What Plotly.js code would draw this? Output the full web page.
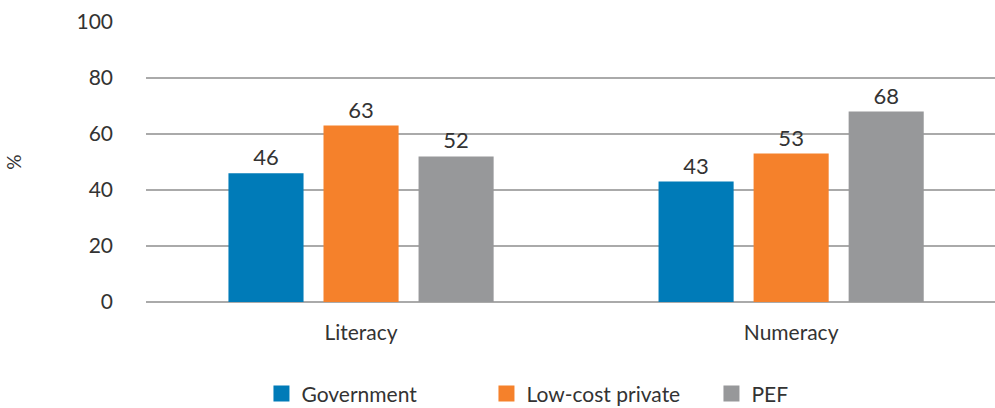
<!DOCTYPE html>
<html><head><meta charset="utf-8">
<script src="https://cdn.plot.ly/plotly-3.0.1.min.js"></script>
<style>html,body{margin:0;padding:0;background:#fff}#c{width:995px;height:408px}</style>
</head><body><div id="c"></div>
<script>
const categories = ["Literacy", "Numeracy"];
const seriesNames = ["Government", "Low-cost private", "PEF"];
const government = [46, 43];
const lowCostPrivate = [63, 53];
const pef = [52, 68];
const yTicks = [0, 20, 40, 60, 80, 100];
const colors = ["#007bb8", "#f5812b", "#97989a"];
const values = [government, lowCostPrivate, pef];
const FONT = "Lato, 'Open Sans', sans-serif";
const traces = values.map((v, i) => ({
  type: "bar", name: seriesNames[i], x: categories, y: v,
  marker: {color: colors[i]}, showlegend: false,
  text: v.map(String), textposition: "outside", cliponaxis: false,
  textfont: {family: FONT, size: 22, color: "#333"},
  hoverinfo: "none"
}));
// legend-only entries (no plotted points) for larger square swatches
seriesNames.forEach((n, i) => traces.push({
  type: "scatter", mode: "markers", name: n, x: [null], y: [null],
  marker: {symbol: "square", size: 17, color: colors[i]}, hoverinfo: "none"
}));
const layout = {
  width: 995, height: 408,
  margin: {l: 146, r: 0, t: 22, b: 106},
  paper_bgcolor: "#fff", plot_bgcolor: "#fff",
  font: {family: FONT, color: "#333", size: 18},
  barmode: "group", bargap: 0.337, bargroupgap: 0.21,
  xaxis: {type: "category", range: [-0.5, 1.474], showgrid: false, showline: false, zeroline: false,
    tickfont: {family: FONT, size: 21, color: "#333"}, ticks: "", ticklabelstandoff: 16, fixedrange: true},
  yaxis: {range: [0, 100], tickvals: yTicks, ticktext: yTicks.map(String),
    showgrid: true, gridcolor: "#aaaaaa", gridwidth: 1.5, zeroline: true,
    zerolinecolor: "#aaaaaa", zerolinewidth: 1.5, showline: false,
    ticklabelstandoff: 32,
    tickfont: {family: FONT, size: 21, color: "#333"},
    title: {text: "%", font: {family: FONT, size: 19, color: "#333"}, standoff: 49},
    fixedrange: true},
  showlegend: true,
  legend: {orientation: "h", x: 0.136, xanchor: "left", yref: "container", y: 0.085, yanchor: "top",
    font: {family: FONT, size: 21, color: "#333"}, itemwidth: 30, traceorder: "normal",
    entrywidth: 180, entrywidthmode: "pixels", borderwidth: 0, tracegroupgap: 0}
};
Plotly.newPlot("c", traces, layout, {displayModeBar: false, staticPlot: true});
</script></body></html>
